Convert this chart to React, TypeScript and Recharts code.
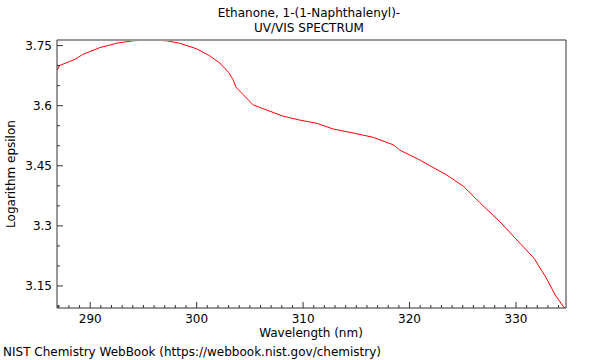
import { LineChart, Line, XAxis, YAxis } from "recharts"

// wavelength (nm)
const wavelengths = [
  286.9, 287.1, 288.6, 289.3, 290.9, 292.5, 294.0, 295.6, 297.2, 298.4,
  300.0, 301.2, 302.2, 303.0, 303.4, 303.7, 304.4, 305.3, 306.6, 308.1,
  309.7, 311.3, 312.8, 314.5, 316.6, 318.5, 319.1, 321.0, 322.2, 323.5,
  325.1, 326.6, 328.5, 330.4, 331.7, 332.8, 333.7, 334.6,
]
const logEpsilon = [
  3.689, 3.700, 3.716, 3.728, 3.745, 3.756, 3.762, 3.764, 3.762, 3.756,
  3.742, 3.725, 3.706, 3.683, 3.666, 3.646, 3.627, 3.602, 3.589, 3.574,
  3.564, 3.556, 3.542, 3.533, 3.521, 3.502, 3.489, 3.464, 3.446, 3.427,
  3.398, 3.358, 3.310, 3.256, 3.219, 3.172, 3.127, 3.093,
]
const xMajor = [290, 300, 310, 320, 330]
const xTicks = Array.from({ length: 48 }, (_, i) => 287 + i)
const yMajor = [3.15, 3.3, 3.45, 3.6, 3.75]
const yTicks = [3.1, 3.15, 3.2, 3.25, 3.3, 3.35, 3.4, 3.45, 3.5, 3.55, 3.6, 3.65, 3.7, 3.75]

const data = wavelengths.map((w, i) => ({ w, v: logEpsilon[i] }))

const font = "'DejaVu Sans', sans-serif"
const xDomain = [286.88, 334.7]
const yDomain = [3.095, 3.764]

const XTick = ({ x, y, payload }: any) => {
  const major = xMajor.includes(payload.value)
  return (
    <g>
      <line x1={x} y1={y} x2={x} y2={y - (major ? 6 : 3)} stroke="#333" />
      {major && (
        <text x={x} y={y + 15} textAnchor="middle" fontSize={12} fill="#000" fontFamily={font}>
          {payload.value}
        </text>
      )}
    </g>
  )
}

const YTick = ({ x, y, payload }: any) => {
  const major = yMajor.some((m) => Math.abs(m - payload.value) < 1e-6)
  return (
    <g>
      <line x1={x} y1={y} x2={x + (major ? 6 : 3)} y2={y} stroke="#333" />
      {major && (
        <text x={x - 5} y={y + 4} textAnchor="end" fontSize={12} fill="#000" fontFamily={font}>
          {payload.value}
        </text>
      )}
    </g>
  )
}

export default function App() {
  return (
    <div style={{ position: "absolute", left: 0, top: 0, width: 600, height: 360, background: "#fff", fontFamily: font }}>
      <LineChart width={600} height={360} data={data} margin={{ top: 39, right: 33, left: 7, bottom: 22 }}>
        <XAxis
          dataKey="w"
          type="number"
          domain={xDomain}
          ticks={xTicks}
          interval={0}
          allowDataOverflow
          height={30}
          tickSize={0}
          tickMargin={0}
          tickLine={false}
          axisLine={{ stroke: "#333" }}
          tick={<XTick />}
        />
        <XAxis xAxisId="top" orientation="top" dataKey="w" type="number" domain={xDomain} allowDataOverflow height={1} tick={false} tickLine={false} axisLine={{ stroke: "#999", strokeWidth: 2 }} />
        <YAxis
          type="number"
          domain={yDomain}
          ticks={yTicks}
          interval={0}
          allowDataOverflow
          width={50}
          tickSize={0}
          tickMargin={0}
          tickLine={false}
          axisLine={{ stroke: "#333" }}
          tick={<YTick />}
        />
        <YAxis yAxisId="right" orientation="right" type="number" domain={yDomain} allowDataOverflow width={1} tick={false} tickLine={false} axisLine={{ stroke: "#333" }} />
        <Line type="linear" dataKey="v" stroke="#ff0000" strokeWidth={1} dot={false} isAnimationActive={false} />
        <text x={309} y={17} textAnchor="middle" fontSize={12} fontFamily={font}>Ethanone, 1-(1-Naphthalenyl)-</text>
        <text x={309} y={32} textAnchor="middle" fontSize={12} fontFamily={font}>UV/VIS SPECTRUM</text>
        <text x={311} y={337} textAnchor="middle" fontSize={12} fontFamily={font}>Wavelength (nm)</text>
        <text x={15} y={174} textAnchor="middle" fontSize={12} fontFamily={font} transform="rotate(-90 15 174)">Logarithm epsilon</text>
        <text x={3} y={356} fontSize={12} fontFamily={font}>NIST Chemistry WebBook (https://webbook.nist.gov/chemistry)</text>
      </LineChart>
    </div>
  )
}
